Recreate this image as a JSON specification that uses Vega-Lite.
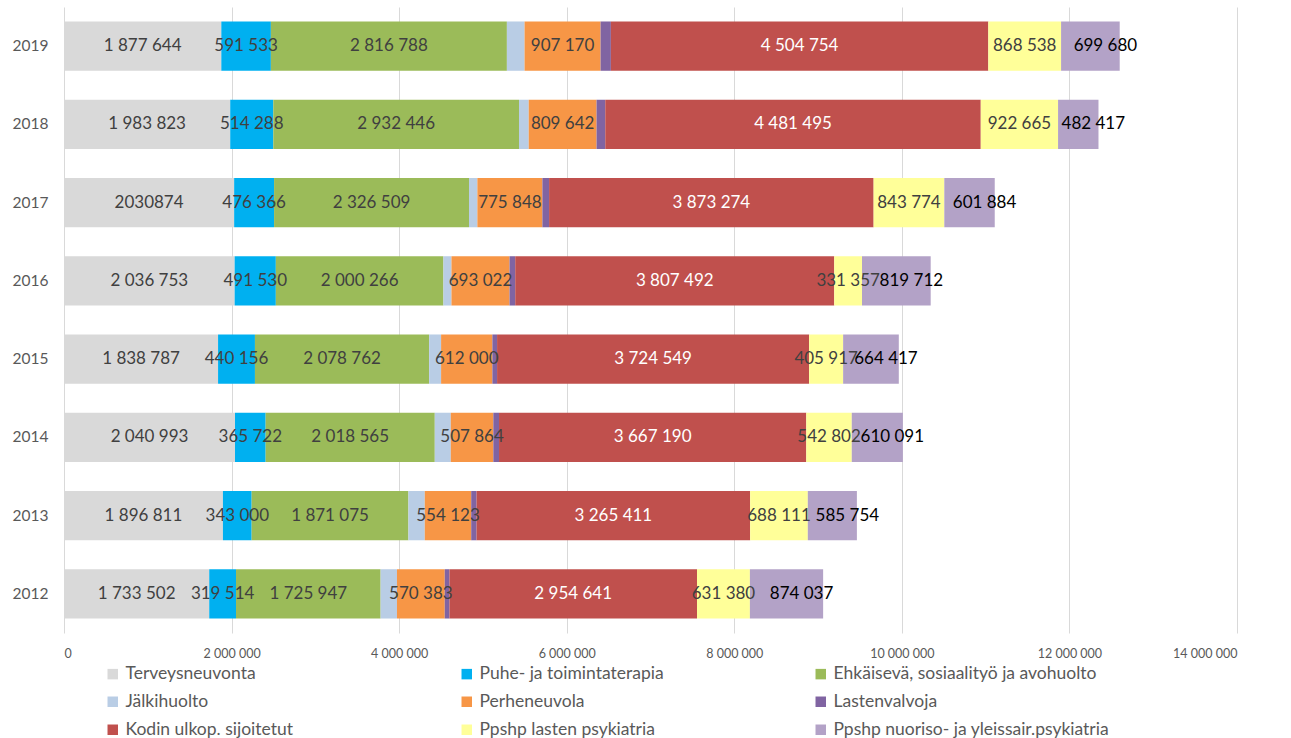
{
  "$schema": "https://vega.github.io/schema/vega-lite/v6.json",
  "autosize": {"type": "none"},
  "padding": {"left": 64, "top": 7, "right": 54, "bottom": 105},
  "width": 1173,
  "height": 626,
  "background": "white",
  "config": {
    "view": {"stroke": null},
    "font": "Lato",
    "locale": {"number": {"decimal": ",", "thousands": "\u00a0", "grouping": [3], "currency": ["", "\u00a0€"]}}
  },
  "data": {
    "values": [
      {"y": "2019", "c": "Terveysneuvonta", "k": 1, "v": 1877644, "t": "1 877 644"},
      {"y": "2019", "c": "Puhe- ja toimintaterapia", "k": 2, "v": 591533, "t": "591 533"},
      {"y": "2019", "c": "Ehkäisevä, sosiaalityö ja avohuolto", "k": 3, "v": 2816788, "t": "2 816 788"},
      {"y": "2019", "c": "Jälkihuolto", "k": 4, "v": 211000, "t": ""},
      {"y": "2019", "c": "Perheneuvola", "k": 5, "v": 907170, "t": "907 170"},
      {"y": "2019", "c": "Lastenvalvoja", "k": 6, "v": 123000, "t": ""},
      {"y": "2019", "c": "Kodin ulkop. sijoitetut", "k": 7, "v": 4504754, "t": "4 504 754"},
      {"y": "2019", "c": "Ppshp lasten psykiatria", "k": 8, "v": 868538, "t": "868 538"},
      {"y": "2019", "c": "Ppshp nuoriso- ja yleissair.psykiatria", "k": 9, "v": 699680, "t": "699 680"},

      {"y": "2018", "c": "Terveysneuvonta", "k": 1, "v": 1983823, "t": "1 983 823"},
      {"y": "2018", "c": "Puhe- ja toimintaterapia", "k": 2, "v": 514288, "t": "514 288"},
      {"y": "2018", "c": "Ehkäisevä, sosiaalityö ja avohuolto", "k": 3, "v": 2932446, "t": "2 932 446"},
      {"y": "2018", "c": "Jälkihuolto", "k": 4, "v": 116000, "t": ""},
      {"y": "2018", "c": "Perheneuvola", "k": 5, "v": 809642, "t": "809 642"},
      {"y": "2018", "c": "Lastenvalvoja", "k": 6, "v": 104000, "t": ""},
      {"y": "2018", "c": "Kodin ulkop. sijoitetut", "k": 7, "v": 4481495, "t": "4 481 495"},
      {"y": "2018", "c": "Ppshp lasten psykiatria", "k": 8, "v": 922665, "t": "922 665"},
      {"y": "2018", "c": "Ppshp nuoriso- ja yleissair.psykiatria", "k": 9, "v": 482417, "t": "482 417"},

      {"y": "2017", "c": "Terveysneuvonta", "k": 1, "v": 2030874, "t": "2030874"},
      {"y": "2017", "c": "Puhe- ja toimintaterapia", "k": 2, "v": 476366, "t": "476 366"},
      {"y": "2017", "c": "Ehkäisevä, sosiaalityö ja avohuolto", "k": 3, "v": 2326509, "t": "2 326 509"},
      {"y": "2017", "c": "Jälkihuolto", "k": 4, "v": 100000, "t": ""},
      {"y": "2017", "c": "Perheneuvola", "k": 5, "v": 775848, "t": "775 848"},
      {"y": "2017", "c": "Lastenvalvoja", "k": 6, "v": 80000, "t": ""},
      {"y": "2017", "c": "Kodin ulkop. sijoitetut", "k": 7, "v": 3873274, "t": "3 873 274"},
      {"y": "2017", "c": "Ppshp lasten psykiatria", "k": 8, "v": 843774, "t": "843 774"},
      {"y": "2017", "c": "Ppshp nuoriso- ja yleissair.psykiatria", "k": 9, "v": 601884, "t": "601 884"},

      {"y": "2016", "c": "Terveysneuvonta", "k": 1, "v": 2036753, "t": "2 036 753"},
      {"y": "2016", "c": "Puhe- ja toimintaterapia", "k": 2, "v": 491530, "t": "491 530"},
      {"y": "2016", "c": "Ehkäisevä, sosiaalityö ja avohuolto", "k": 3, "v": 2000266, "t": "2 000 266"},
      {"y": "2016", "c": "Jälkihuolto", "k": 4, "v": 96000, "t": ""},
      {"y": "2016", "c": "Perheneuvola", "k": 5, "v": 693022, "t": "693 022"},
      {"y": "2016", "c": "Lastenvalvoja", "k": 6, "v": 68000, "t": ""},
      {"y": "2016", "c": "Kodin ulkop. sijoitetut", "k": 7, "v": 3807492, "t": "3 807 492"},
      {"y": "2016", "c": "Ppshp lasten psykiatria", "k": 8, "v": 331357, "t": "331 357"},
      {"y": "2016", "c": "Ppshp nuoriso- ja yleissair.psykiatria", "k": 9, "v": 819712, "t": "819 712"},

      {"y": "2015", "c": "Terveysneuvonta", "k": 1, "v": 1838787, "t": "1 838 787"},
      {"y": "2015", "c": "Puhe- ja toimintaterapia", "k": 2, "v": 440156, "t": "440 156"},
      {"y": "2015", "c": "Ehkäisevä, sosiaalityö ja avohuolto", "k": 3, "v": 2078762, "t": "2 078 762"},
      {"y": "2015", "c": "Jälkihuolto", "k": 4, "v": 143000, "t": ""},
      {"y": "2015", "c": "Perheneuvola", "k": 5, "v": 612000, "t": "612 000"},
      {"y": "2015", "c": "Lastenvalvoja", "k": 6, "v": 56000, "t": ""},
      {"y": "2015", "c": "Kodin ulkop. sijoitetut", "k": 7, "v": 3724549, "t": "3 724 549"},
      {"y": "2015", "c": "Ppshp lasten psykiatria", "k": 8, "v": 405917, "t": "405 917"},
      {"y": "2015", "c": "Ppshp nuoriso- ja yleissair.psykiatria", "k": 9, "v": 664417, "t": "664 417"},

      {"y": "2014", "c": "Terveysneuvonta", "k": 1, "v": 2040993, "t": "2 040 993"},
      {"y": "2014", "c": "Puhe- ja toimintaterapia", "k": 2, "v": 365722, "t": "365 722"},
      {"y": "2014", "c": "Ehkäisevä, sosiaalityö ja avohuolto", "k": 3, "v": 2018565, "t": "2 018 565"},
      {"y": "2014", "c": "Jälkihuolto", "k": 4, "v": 191000, "t": ""},
      {"y": "2014", "c": "Perheneuvola", "k": 5, "v": 507864, "t": "507 864"},
      {"y": "2014", "c": "Lastenvalvoja", "k": 6, "v": 68000, "t": ""},
      {"y": "2014", "c": "Kodin ulkop. sijoitetut", "k": 7, "v": 3667190, "t": "3 667 190"},
      {"y": "2014", "c": "Ppshp lasten psykiatria", "k": 8, "v": 542802, "t": "542 802"},
      {"y": "2014", "c": "Ppshp nuoriso- ja yleissair.psykiatria", "k": 9, "v": 610091, "t": "610 091"},

      {"y": "2013", "c": "Terveysneuvonta", "k": 1, "v": 1896811, "t": "1 896 811"},
      {"y": "2013", "c": "Puhe- ja toimintaterapia", "k": 2, "v": 343000, "t": "343 000"},
      {"y": "2013", "c": "Ehkäisevä, sosiaalityö ja avohuolto", "k": 3, "v": 1871075, "t": "1 871 075"},
      {"y": "2013", "c": "Jälkihuolto", "k": 4, "v": 195000, "t": ""},
      {"y": "2013", "c": "Perheneuvola", "k": 5, "v": 554123, "t": "554 123"},
      {"y": "2013", "c": "Lastenvalvoja", "k": 6, "v": 64000, "t": ""},
      {"y": "2013", "c": "Kodin ulkop. sijoitetut", "k": 7, "v": 3265411, "t": "3 265 411"},
      {"y": "2013", "c": "Ppshp lasten psykiatria", "k": 8, "v": 688111, "t": "688 111"},
      {"y": "2013", "c": "Ppshp nuoriso- ja yleissair.psykiatria", "k": 9, "v": 585754, "t": "585 754"},

      {"y": "2012", "c": "Terveysneuvonta", "k": 1, "v": 1733502, "t": "1 733 502"},
      {"y": "2012", "c": "Puhe- ja toimintaterapia", "k": 2, "v": 319514, "t": "319 514"},
      {"y": "2012", "c": "Ehkäisevä, sosiaalityö ja avohuolto", "k": 3, "v": 1725947, "t": "1 725 947"},
      {"y": "2012", "c": "Jälkihuolto", "k": 4, "v": 195000, "t": ""},
      {"y": "2012", "c": "Perheneuvola", "k": 5, "v": 570383, "t": "570 383"},
      {"y": "2012", "c": "Lastenvalvoja", "k": 6, "v": 56000, "t": ""},
      {"y": "2012", "c": "Kodin ulkop. sijoitetut", "k": 7, "v": 2954641, "t": "2 954 641"},
      {"y": "2012", "c": "Ppshp lasten psykiatria", "k": 8, "v": 631380, "t": "631 380"},
      {"y": "2012", "c": "Ppshp nuoriso- ja yleissair.psykiatria", "k": 9, "v": 874037, "t": "874 037"}
    ]
  },
  "transform": [
    {"stack": "v", "groupby": ["y"], "sort": [{"field": "k", "order": "ascending"}], "as": ["v0", "v1"]}
  ],
  "encoding": {
    "y": {
      "field": "y", "type": "nominal", "sort": "descending",
      "scale": {"paddingInner": 0.37, "paddingOuter": 0.185},
      "axis": {"title": null, "domain": false, "ticks": false, "labelPadding": 16, "labelFontSize": 15.5, "labelColor": "#595959", "labelFont": "Lato"}
    }
  },
  "layer": [
    {
      "mark": {"type": "bar"},
      "encoding": {
        "x": {
          "field": "v0", "type": "quantitative",
          "scale": {"domain": [0, 14000000], "nice": false, "zero": true},
          "axis": {
            "title": null, "values": [0, 2000000, 4000000, 6000000, 8000000, 10000000, 12000000, 14000000],
            "format": ",d", "domain": false, "ticks": false, "grid": true, "gridColor": "#D9D9D9", "gridWidth": 1,
            "labelPadding": 14, "labelFontSize": 12.5, "labelColor": "#595959", "labelFont": "Lato"
          }
        },
        "x2": {"field": "v1"},
        "color": {
          "field": "c", "type": "nominal",
          "scale": {
            "domain": ["Terveysneuvonta", "Puhe- ja toimintaterapia", "Ehkäisevä, sosiaalityö ja avohuolto", "Jälkihuolto", "Perheneuvola", "Lastenvalvoja", "Kodin ulkop. sijoitetut", "Ppshp lasten psykiatria", "Ppshp nuoriso- ja yleissair.psykiatria"],
            "range": ["#D9D9D9", "#00B0F0", "#9BBB59", "#B9CDE5", "#F79646", "#8064A2", "#C0504D", "#FFFF99", "#B3A2C7"]
          },
          "legend": {
            "title": null, "orient": "none", "legendX": 40, "legendY": 658, "direction": "horizontal", "columns": 3,
            "gridAlign": "all", "columnPadding": 56, "rowPadding": 9, "symbolType": "square", "symbolSize": 110,
            "symbolStrokeWidth": 0, "labelFontSize": 17.5, "labelColor": "#595959", "labelFont": "Lato", "labelOffset": 4,
            "labelLimit": 400, "padding": 0
          }
        }
      }
    },
    {
      "mark": {
        "type": "text", "fontSize": 17, "font": "Lato", "align": "center", "baseline": "middle",
        "dx": {"expr": "(scale('x', datum.v1) - scale('x', datum.v0)) / 2 + (datum.k === 9 ? 15 : 0)"}
      },
      "encoding": {
        "x": {"field": "v0", "type": "quantitative"},
        "text": {"field": "t"},
        "color": {
          "condition": [
            {"test": "datum.c === 'Kodin ulkop. sijoitetut'", "value": "#FFFFFF"},
            {"test": "datum.c === 'Ppshp nuoriso- ja yleissair.psykiatria'", "value": "#000000"}
          ],
          "value": "#404040"
        }
      }
    }
  ]
}
